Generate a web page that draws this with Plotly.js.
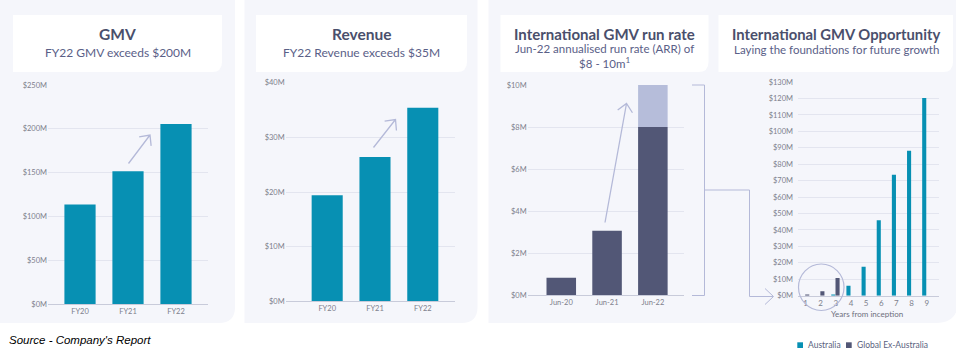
<!DOCTYPE html>
<html><head><meta charset="utf-8">
<script src="https://cdn.plot.ly/plotly-3.0.1.min.js"></script>
<style>html,body{margin:0;padding:0;background:#fff}#c{width:956px;height:354px}</style>
</head><body><div id="c"></div>
<script>
// ---- data ----
const gmvCats = ['FY20','FY21','FY22'];
const gmvVals = [113.5, 151.5, 205.5];
const revCats = ['FY20','FY21','FY22'];
const revVals = [19.4, 26.4, 35.4];
const intlCats = ['Jun-20','Jun-21','Jun-22'];
const intlLow = [0.84, 3.07, 8];
const intlHigh = [0.84, 3.07, 10];
const years = [1,2,3,4,5,6,7,8,9];
const australia = [0, 0, 0.8, 6.1, 17.6, 45.9, 73.6, 88.2, 120.3];
const globalExAus = [0.8, 2.7, 10.7, null, null, null, null, null, null];
const seriesNames = ['Australia','Global Ex-Australia'];

// ---- helpers ----
const W = 956, H = 354;
const px = x => x / W;
const py = y => 1 - y / H;
const TEAL = '#0790b3', DARK = '#525776', LIGHT = '#b6bdda', LAV = '#b4b9d8';
const BG = '#f5f6fb', GRID = '#e3e5ef', AXL = '#c8cbda', TICK = '#7d7f8c';
const FONT = 'Lato, "Open Sans", sans-serif';

function panelPath(x0,y0,x1,y1,r){
  return `M${px(x0)},${py(y0)} L${px(x1)},${py(y0)} L${px(x1)},${py(y1-r)} Q${px(x1)},${py(y1)} ${px(x1-r)},${py(y1)} L${px(x0)},${py(y1)} Z`;
}
function arrowPath(x0,y0,x1,y1,len,ang){
  const a = Math.atan2(y1-y0, x1-x0);
  const w1 = [x1-len*Math.cos(a-ang), y1-len*Math.sin(a-ang)];
  const w2 = [x1-len*Math.cos(a+ang), y1-len*Math.sin(a+ang)];
  return `M${px(x0)},${py(y0)} L${px(x1)},${py(y1)} M${px(w1[0])},${py(w1[1])} L${px(x1)},${py(y1)} L${px(w2[0])},${py(w2[1])}`;
}

// ---- traces ----
const traces = [
  {type:'bar', x:gmvCats, y:gmvVals, xaxis:'x', yaxis:'y', width:0.65, marker:{color:TEAL}, showlegend:false, hoverinfo:'skip'},
  {type:'bar', x:revCats, y:revVals, xaxis:'x2', yaxis:'y2', width:0.65, marker:{color:TEAL}, showlegend:false, hoverinfo:'skip'},
  {type:'bar', x:intlCats, y:intlLow, xaxis:'x3', yaxis:'y3', width:0.645, marker:{color:DARK}, showlegend:false, hoverinfo:'skip'},
  {type:'bar', x:intlCats, y:intlHigh.map((v,i)=>v-intlLow[i]), base:intlLow, xaxis:'x3', yaxis:'y3', width:0.645, marker:{color:LIGHT}, showlegend:false, hoverinfo:'skip'},
  {type:'bar', name:seriesNames[0], x:years, y:australia, xaxis:'x4', yaxis:'y4', offset:-0.30, width:0.27, marker:{color:TEAL}, showlegend:false, hoverinfo:'skip'},
  {type:'bar', name:seriesNames[1], x:years, y:globalExAus, xaxis:'x4', yaxis:'y4', offset:-0.02, width:0.27, marker:{color:DARK}, showlegend:false, hoverinfo:'skip'}
];

const tf = {family:FONT, size:7.5, color:TICK};
function xa(d0,d1,r,anchor,extra){ return Object.assign({domain:[px(d0),px(d1)], range:r, anchor:anchor, showgrid:false, showline:true, linecolor:AXL, linewidth:1, ticks:'', tickfont:tf, fixedrange:true, zeroline:false}, extra||{}); }
function ya(d0,d1,r,dt,anchor,extra){ return Object.assign({domain:[py(d1),py(d0)], range:r, dtick:dt, anchor:anchor, showgrid:true, gridcolor:GRID, gridwidth:1, zeroline:false, showline:false, ticks:'', tickprefix:'$', ticksuffix:'M', tickfont:tf, fixedrange:true}, extra||{}); }

const shapes = [
  {type:'path', xref:'paper', yref:'paper', path:panelPath(-2,0,235,323,16), fillcolor:BG, line:{width:0}, layer:'below'},
  {type:'path', xref:'paper', yref:'paper', path:panelPath(244.5,0,477.5,323,16), fillcolor:BG, line:{width:0}, layer:'below'},
  {type:'path', xref:'paper', yref:'paper', path:panelPath(488.5,0,958,323,22), fillcolor:BG, line:{width:0}, layer:'below'},
  {type:'path', xref:'paper', yref:'paper', path:panelPath(13,15,222,72,10), fillcolor:'#ffffff', line:{width:0}, layer:'below'},
  {type:'path', xref:'paper', yref:'paper', path:panelPath(256,15,467,72,10), fillcolor:'#ffffff', line:{width:0}, layer:'below'},
  {type:'path', xref:'paper', yref:'paper', path:panelPath(500.5,15,708.5,72,10), fillcolor:'#ffffff', line:{width:0}, layer:'below'},
  {type:'path', xref:'paper', yref:'paper', path:panelPath(718.5,15,953,72,10), fillcolor:'#ffffff', line:{width:0}, layer:'below'},
  // growth arrows
  {type:'path', xref:'paper', yref:'paper', path:arrowPath(128.5,163.5,150,135,11,0.75), line:{color:LAV, width:1.3}},
  {type:'path', xref:'paper', yref:'paper', path:arrowPath(373.5,147.5,395.5,119.5,11,0.75), line:{color:LAV, width:1.3}},
  {type:'path', xref:'paper', yref:'paper', path:arrowPath(605,222.5,626.5,103.5,11,0.75), line:{color:LAV, width:1.3}},
  // bracket + connector
  {type:'path', xref:'paper', yref:'paper', path:`M${px(692)},${py(85)} L${px(704.5)},${py(85)} L${px(704.5)},${py(295.5)} L${px(692)},${py(295.5)}`, line:{color:LAV, width:1}},
  {type:'path', xref:'paper', yref:'paper', path:`M${px(704.5)},${py(190)} L${px(749.5)},${py(190)} L${px(749.5)},${py(296.5)} L${px(773)},${py(296.5)}`, line:{color:LAV, width:1}},
  {type:'path', xref:'paper', yref:'paper', path:`M${px(765)},${py(288.5)} L${px(773.5)},${py(296.5)} L${px(765)},${py(304.5)}`, line:{color:LAV, width:1}},
  // highlight circle
  {type:'circle', xref:'paper', yref:'paper', x0:px(798.5), x1:px(844), y0:py(310.5), y1:py(264), line:{color:LAV, width:1.2}},
  // legend swatches
  {type:'rect', xref:'paper', yref:'paper', x0:px(797.3), x1:px(803), y0:py(348), y1:py(342.3), fillcolor:TEAL, line:{width:0}},
  {type:'rect', xref:'paper', yref:'paper', x0:px(846), x1:px(851.7), y0:py(348), y1:py(342.3), fillcolor:DARK, line:{width:0}}
];

const TC = '#4a4f6c', SC = '#5a6087';
function ann(text,x,y,size,color,bold,anchor){ return {xref:'paper', yref:'paper', x:px(x), y:py(y), xanchor:anchor||'center', yanchor:'middle', showarrow:false, text: bold?'<b>'+text+'</b>':text, font:{family:FONT, size:size, color:color}}; }
const annotations = [
  ann('GMV',117.5,34,15.5,TC,true),
  ann('FY22 GMV exceeds $200M',117.5,52.3,12,SC,false),
  ann('Revenue',361.5,34,15.5,TC,true),
  ann('FY22 Revenue exceeds $35M',361.5,52.3,12,SC,false),
  ann('International GMV run rate',604,33.5,15,TC,true),
  ann('Jun-22 annualised run rate (ARR) of<br>$8 - 10m<sup>1</sup>',604,55.5,11.5,SC,false),
  ann('International GMV Opportunity',835.5,33.5,14.8,TC,true),
  ann('Laying the foundations for future growth',836.5,49,11.5,SC,false),
  ann('Years from inception',867,313.5,8,'#6d6f7c',false),
  ann(seriesNames[0],806,345.3,8.5,'#5a5f7e',false,'left'),
  ann(seriesNames[1],854.5,345.3,8.5,'#5a5f7e',false,'left'),
  {xref:'paper', yref:'paper', x:px(7), y:py(340), xanchor:'left', yanchor:'middle', showarrow:false, text:"<i>Source - Company's Report</i>", font:{family:'"Liberation Sans", Arial, sans-serif', size:11.5, color:'#000'}}
];

const layout = {
  width:956, height:354, margin:{l:0,r:0,t:0,b:0}, paper_bgcolor:'#ffffff', plot_bgcolor:'rgba(0,0,0,0)',
  barmode:'overlay', showlegend:false, font:{family:FONT},
  xaxis: xa(48,208,[-0.667,2.667],'y',{type:'category'}),
  yaxis: ya(85,304,[0,250],50,'x'),
  xaxis2: xa(285.7,455,[-0.868,2.674],'y2',{type:'category'}),
  yaxis2: ya(82.7,301.3,[0,40],10,'x2'),
  xaxis3: xa(527.7,684,[-0.733,2.68],'y3',{type:'category'}),
  yaxis3: ya(85,295.3,[0,10],2,'x3'),
  xaxis4: xa(798,939,[0.505,9.81],'y4',{tickvals:years, ticktext:years.map(String), tickfont:{family:FONT,size:8,color:TICK}}),
  yaxis4: ya(82,295.7,[0,130],10,'x4',{ticklabelstandoff:4}),
  shapes: shapes, annotations: annotations
};
Plotly.newPlot('c', traces, layout, {staticPlot:true, displayModeBar:false});
</script></body></html>
